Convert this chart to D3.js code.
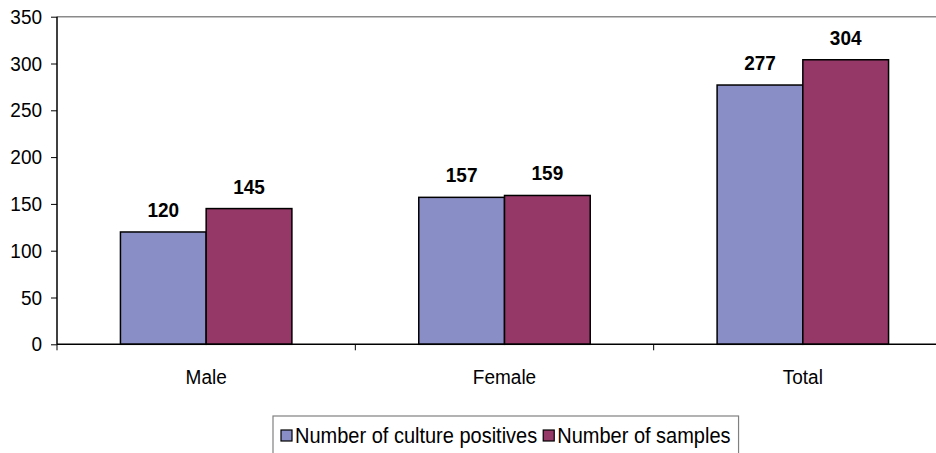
<!DOCTYPE html>
<html>
<head>
<meta charset="utf-8">
<script src="https://cdn.jsdelivr.net/npm/d3@7"></script>
<style>
  html, body { margin: 0; padding: 0; background: #fff; }
  svg { display: block; font-family: Arial, "Liberation Sans", sans-serif; }
</style>
</head>
<body>
<svg id="chart" width="936" height="453"></svg>
<script>
// Culture positives vs. samples, by sex
const categories = ["Male", "Female", "Total"];
const seriesNames = ["Number of culture positives", "Number of samples"];
const culturePositives = [120, 157, 277];
const samples = [145, 159, 304];
const yTicks = [0, 50, 100, 150, 200, 250, 300, 350];

const colors = ["#8a8ec6", "#953868"];
const seriesValues = [culturePositives, samples];

const svg = d3.select("#chart");
const W = 936;

const plot = { left: 57, right: 952, top: 16.7, bottom: 344.3 };

const y = d3.scaleLinear().domain([0, 350]).range([plot.bottom, plot.top]);
const x0 = d3.scaleBand().domain(categories).range([plot.left, plot.right]).paddingInner(0).paddingOuter(0);
const x1 = d3.scaleBand().domain(seriesNames).range([0, x0.bandwidth()]).paddingInner(0).paddingOuter(0.74);

// text is drawn slightly taller than wide
const stretch = 1.07;
function placeText(sel, px, py) {
  sel.attr("transform", `translate(${px},${py}) scale(1,${stretch})`);
}

// top border of plot area
svg.append("line")
  .attr("x1", plot.left).attr("x2", W)
  .attr("y1", plot.top).attr("y2", plot.top)
  .attr("stroke", "#8a8a8a").attr("stroke-width", 1.5);

// bars
const groups = svg.append("g").selectAll("g")
  .data(categories)
  .join("g")
  .attr("transform", d => `translate(${x0(d)},0)`);

groups.each(function(cat, ci) {
  const g = d3.select(this);
  seriesNames.forEach((s, si) => {
    const v = seriesValues[si][ci];
    g.append("rect")
      .attr("x", x1(s))
      .attr("y", y(v))
      .attr("width", x1.bandwidth())
      .attr("height", y(0) - y(v))
      .attr("fill", colors[si])
      .attr("stroke", "#000")
      .attr("stroke-width", 1.5);
    g.append("text")
      .attr("text-anchor", "middle")
      .attr("font-size", 19)
      .attr("font-weight", "bold")
      .attr("fill", "#000")
      .call(placeText, x1(s) + x1.bandwidth() / 2, y(v) - 15)
      .text(v);
  });
});

// y axis
const yAxis = d3.axisLeft(y).tickValues(yTicks).tickSize(6).tickPadding(9).tickFormat(d3.format("d"));
const yg = svg.append("g").attr("transform", `translate(${plot.left},0)`).call(yAxis);
yg.select(".domain").attr("stroke", "#000").attr("stroke-width", 1.5).attr("d", `M0,${plot.top}V${plot.bottom}`);
yg.selectAll(".tick line").attr("stroke", "#000").attr("stroke-width", 1);
yg.selectAll(".tick text")
  .attr("font-size", 19).attr("fill", "#000")
  .attr("font-family", "Arial, 'Liberation Sans', sans-serif")
  .attr("x", null).attr("dy", null)
  .each(function() { d3.select(this).call(placeText, -15, 6.5); });

// x axis line with boundary ticks
svg.append("line")
  .attr("x1", plot.left).attr("x2", W)
  .attr("y1", plot.bottom).attr("y2", plot.bottom)
  .attr("stroke", "#000").attr("stroke-width", 1.5);

const boundaries = categories.map(c => x0(c)).concat([plot.right]);
svg.append("g").selectAll("line")
  .data(boundaries)
  .join("line")
  .attr("x1", d => d).attr("x2", d => d)
  .attr("y1", plot.bottom).attr("y2", plot.bottom + 6)
  .attr("stroke", "#000").attr("stroke-width", 1);

svg.append("g").selectAll("text")
  .data(categories)
  .join("text")
  .attr("text-anchor", "middle")
  .attr("font-size", 19)
  .attr("fill", "#000")
  .each(function(d) { d3.select(this).call(placeText, x0(d) + x0.bandwidth() / 2, 384); })
  .text(d => d);

// legend
const legend = svg.append("g");
const legendBox = legend.append("rect")
  .attr("fill", "#fff")
  .attr("stroke", "#808080")
  .attr("stroke-width", 1.2);

let lx = 281;
const markerSize = 11;
seriesNames.forEach((s, i) => {
  legend.append("rect")
    .attr("x", lx).attr("y", 430)
    .attr("width", markerSize).attr("height", markerSize)
    .attr("fill", colors[i])
    .attr("stroke", "#000").attr("stroke-width", 1.2);
  const t = legend.append("text")
    .attr("font-size", 20)
    .attr("fill", "#000")
    .call(placeText, lx + markerSize + 3, 443)
    .text(s);
  lx = lx + markerSize + 3 + t.node().getComputedTextLength() + 6;
});
legendBox
  .attr("x", 273).attr("y", 416)
  .attr("width", lx - 273 + 2)
  .attr("height", 60);
</script>
</body>
</html>
